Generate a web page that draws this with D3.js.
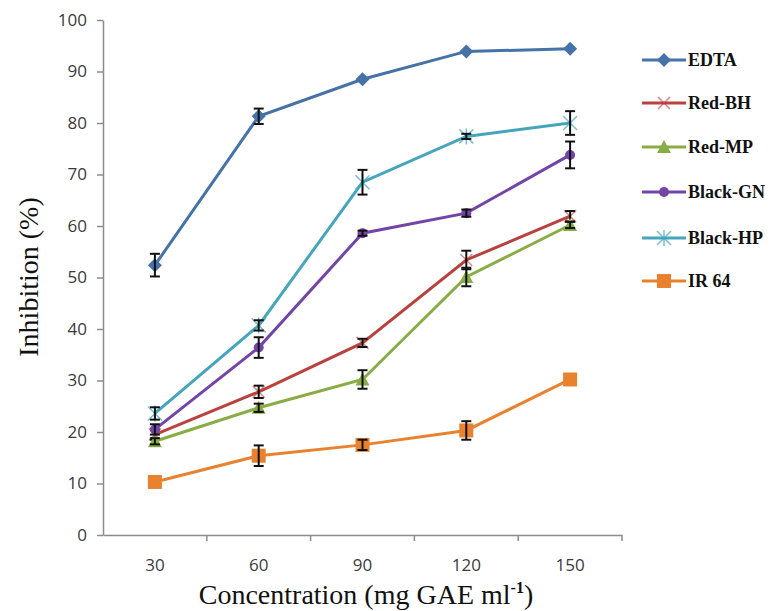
<!DOCTYPE html>
<html>
  <head>
    <meta charset="utf-8">
    <title>Inhibition vs concentration</title>
    <style>
      body { margin: 0; background: #fff; }
      .tick text { fill: #3a3a3a; font-family: "Open Sans", sans-serif; font-size: 17px; }
      .domain, .tick line { stroke: #8c8c8c; }
    </style>
  </head>
  <body>
  <div id="chart"></div>
  <script src="https://d3js.org/d3.v7.min.js"></script>
  <script>
    // 横軸のカテゴリ(濃度)
    var concentrations = ["30", "60", "90", "120", "150"];
    var yTicks = [0, 10, 20, 30, 40, 50, 60, 70, 80, 90, 100];

    // 系列ごとの値と誤差
    var edta     = [52.4, 81.3, 88.5, 93.9, 94.4];
    var edtaErr  = [2.2, 1.5, 0, 0, 0];
    var redBH    = [19.5, 27.8, 37.3, 53.4, 61.9];
    var redBHErr = [1.0, 1.2, 0.8, 1.8, 1.0];
    var redMP    = [18.2, 24.7, 30.2, 50.1, 60.2];
    var redMPErr = [0.6, 0.8, 1.8, 1.8, 0.6];
    var blackGN    = [20.5, 36.4, 58.6, 62.5, 73.8];
    var blackGNErr = [1.0, 2.0, 0.5, 0.7, 2.6];
    var blackHP    = [23.6, 40.7, 68.5, 77.4, 80.0];
    var blackHPErr = [1.2, 1.0, 2.4, 0.5, 2.3];
    var ir64     = [10.3, 15.4, 17.5, 20.3, 30.2];
    var ir64Err  = [0, 2.0, 1.0, 1.8, 0];

    var seriesNames = ["EDTA", "Red-BH", "Red-MP", "Black-GN", "Black-HP", "IR 64"];
    var seriesValues = [edta, redBH, redMP, blackGN, blackHP, ir64];
    var seriesErrors = [edtaErr, redBHErr, redMPErr, blackGNErr, blackHPErr, ir64Err];
    var seriesColors = ["#4572a7", "#b9413e", "#8aac46", "#7345a8", "#45a5bd", "#e8822f"];
    var seriesMarkers = ["diamond", "x", "triangle", "circle", "star", "square"];

    var serifFont = "Liberation Serif";

    var width = 774, height = 611;
    var plot = {left: 103, right: 622, top: 20, bottom: 535};

    var svg = d3.select("#chart").append("svg")
      .attr("width", width)
      .attr("height", height);

    var x = d3.scaleBand()
      .domain(concentrations)
      .range([plot.left, plot.right]);
    var y = d3.scaleLinear()
      .domain([0, 100])
      .range([plot.bottom, plot.top]);

    // 軸
    var xAxis = svg.append("g")
      .attr("transform", `translate(0, ${plot.bottom})`)
      .call(d3.axisBottom(x).tickSize(0).tickPadding(24));
    xAxis.select(".domain").attr("stroke-width", 1.5);
    // カテゴリの境目に目盛り
    xAxis.selectAll(".sep")
      .data(concentrations)
      .enter().append("line")
        .attr("x1", function (d) { return x(d) + x.bandwidth(); })
        .attr("x2", function (d) { return x(d) + x.bandwidth(); })
        .attr("y1", 0).attr("y2", 6)
        .attr("stroke", "#8c8c8c").attr("stroke-width", 1.5);

    var yAxis = svg.append("g")
      .attr("transform", `translate(${plot.left}, 0)`)
      .call(d3.axisLeft(y).tickValues(yTicks).tickSize(6).tickPadding(10).tickSizeOuter(0));
    yAxis.selectAll(".domain, .tick line").attr("stroke-width", 1.5);

    // 軸タイトル
    svg.append("text")
      .attr("font-family", serifFont)
      .attr("fill", "#111")
      .attr("font-size", 28)
      .attr("transform", "translate(38, 277) rotate(-90)")
      .attr("text-anchor", "middle")
      .text("Inhibition (%)");

    var xt = svg.append("text")
      .attr("font-family", serifFont)
      .attr("fill", "#111")
      .attr("font-size", 28)
      .attr("x", 366).attr("y", 604)
      .attr("text-anchor", "middle");
    xt.append("tspan").text("Concentration (mg GAE ml");
    xt.append("tspan").attr("dy", -11).attr("font-size", 16).attr("font-weight", "bold").text("-1");
    xt.append("tspan").attr("dy", 11).text(")");

    // マーカーを描く関数
    function drawMarker(g, type, color, cx, cy) {
      if (type == "diamond") {
        g.append("path").attr("d", `M${cx},${cy - 7}L${cx + 7},${cy}L${cx},${cy + 7}L${cx - 7},${cy}Z`).attr("fill", color);
      } else if (type == "square") {
        g.append("rect").attr("x", cx - 7).attr("y", cy - 7).attr("width", 14).attr("height", 14).attr("fill", color);
      } else if (type == "triangle") {
        g.append("path").attr("d", `M${cx},${cy - 7}L${cx + 7},${cy + 6}L${cx - 7},${cy + 6}Z`).attr("fill", color);
      } else if (type == "circle") {
        g.append("circle").attr("cx", cx).attr("cy", cy).attr("r", 5).attr("fill", color);
      } else if (type == "x") {
        g.append("path").attr("d", `M${cx - 6},${cy - 6}L${cx + 6},${cy + 6}M${cx - 6},${cy + 6}L${cx + 6},${cy - 6}`)
          .attr("stroke", color).attr("stroke-width", 1.5).attr("opacity", 0.6);
      } else if (type == "star") {
        g.append("path").attr("d", `M${cx - 7},${cy - 7}L${cx + 7},${cy + 7}M${cx - 7},${cy + 7}L${cx + 7},${cy - 7}M${cx},${cy - 8}L${cx},${cy + 8}`)
          .attr("stroke", color).attr("stroke-width", 1.5).attr("opacity", 0.7);
      }
    }

    var line = d3.line()
      .x(function (d, i) { return x(concentrations[i]) + x.bandwidth() / 2; })
      .y(function (d) { return y(d); });

    // 系列を描画
    seriesValues.forEach(function (values, s) {
      var g = svg.append("g");
      g.append("path")
        .datum(values)
        .attr("d", line)
        .attr("fill", "none")
        .attr("stroke", seriesColors[s])
        .attr("stroke-width", 3);
      values.forEach(function (v, i) {
        var cx = x(concentrations[i]) + x.bandwidth() / 2;
        drawMarker(g, seriesMarkers[s], seriesColors[s], cx, y(v));
      });
      // 誤差棒
      values.forEach(function (v, i) {
        var e = seriesErrors[s][i];
        if (e <= 0) return;
        var cx = x(concentrations[i]) + x.bandwidth() / 2;
        var eg = g.append("g").attr("stroke", "#111").attr("stroke-width", 2);
        eg.append("line").attr("x1", cx).attr("x2", cx).attr("y1", y(v + e)).attr("y2", y(v - e));
        eg.append("line").attr("x1", cx - 5).attr("x2", cx + 5).attr("y1", y(v + e)).attr("y2", y(v + e));
        eg.append("line").attr("x1", cx - 5).attr("x2", cx + 5).attr("y1", y(v - e)).attr("y2", y(v - e));
      });
    });

    // 凡例
    var legendY = [60, 103, 147, 192, 238, 281];
    seriesNames.forEach(function (name, s) {
      var g = svg.append("g");
      var ly = legendY[s];
      g.append("line")
        .attr("x1", 642).attr("x2", 686)
        .attr("y1", ly).attr("y2", ly)
        .attr("stroke", seriesColors[s]).attr("stroke-width", 3);
      drawMarker(g, seriesMarkers[s], seriesColors[s], 664, ly);
      g.append("text")
        .attr("font-family", serifFont)
        .attr("fill", "#111")
        .attr("font-weight", "bold")
        .attr("font-size", 18)
        .attr("x", 688).attr("y", ly + 6)
        .text(name);
    });
  </script>
  </body>
</html>
